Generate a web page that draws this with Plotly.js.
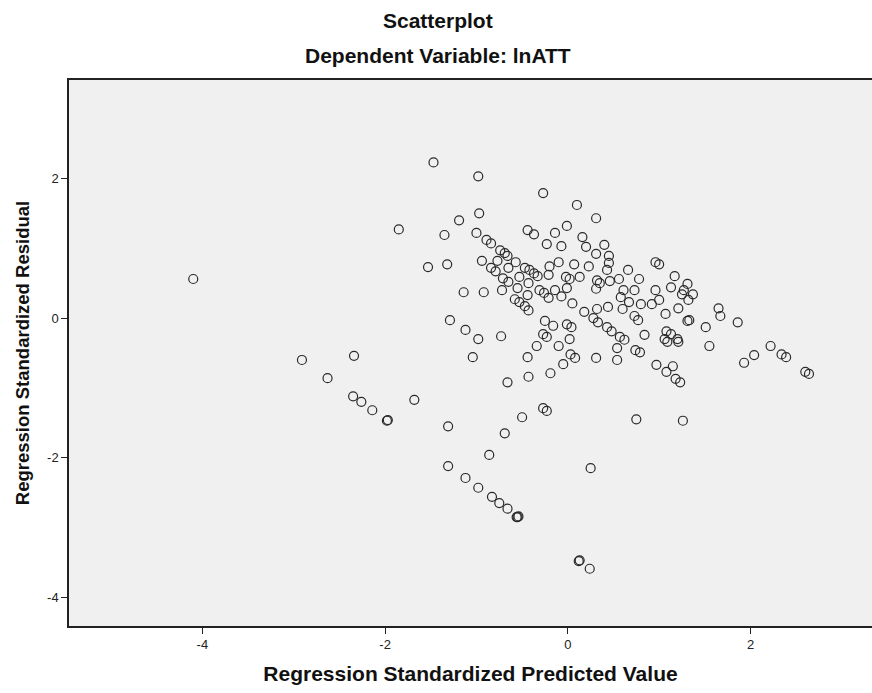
<!DOCTYPE html>
<html>
<head>
<meta charset="utf-8">
<script src="https://cdn.plot.ly/plotly-3.0.1.min.js"></script>
<style>html,body{margin:0;padding:0;background:#fff;}#chart{width:872px;height:693px;}</style>
</head>
<body>
<div id="chart"></div>
<script>
// Regression Standardized Predicted Value
var predicted = [
-4.10,-1.85,-1.47,-0.98,-0.27,0.10,0.31,-1.19,-0.97,-1.35,
-1.00,-0.89,-0.84,-0.74,-0.69,-0.66,-0.44,-0.37,-0.14,-0.01,
-0.23,-0.07,0.16,0.20,0.40,0.31,0.45,-1.53,-1.32,-0.94,
-0.77,-0.84,-0.79,-0.65,-0.57,-0.47,-0.42,-0.37,-0.33,-0.53,
-0.71,-0.65,-0.43,-0.20,-0.10,0.07,0.23,0.45,0.43,0.66,
-0.21,-0.02,0.02,0.13,0.32,0.35,0.46,0.56,0.78,-1.14,
-0.92,-0.72,-0.55,-0.44,-0.31,-0.26,-0.21,-0.14,-0.01,-0.07,
0.05,0.31,0.61,0.73,0.58,0.67,0.60,-0.58,-0.53,-0.47,
-0.43,0.18,0.32,0.44,0.28,0.33,0.43,0.48,0.57,0.62,
0.73,0.77,-1.29,-1.12,-0.98,-0.73,-0.25,-0.16,-0.01,0.04,
-0.27,-0.23,-0.34,-0.10,0.02,0.03,0.08,0.31,0.54,0.54,
-0.05,0.74,0.79,-1.04,-0.44,-0.66,-0.43,-0.19,-0.27,-0.23,
-0.50,-0.69,-1.31,0.75,-0.86,-1.31,-1.12,-0.98,-0.83,-0.75,
-0.66,-0.56,-0.55,-0.54,0.25,0.12,0.13,0.24,-2.91,-2.34,
-2.63,-2.35,-2.26,-2.14,-1.98,-1.97,-1.68,0.96,1.00,1.17,
1.13,1.31,1.27,1.37,1.25,1.32,1.21,0.96,1.00,0.92,
0.80,1.07,1.31,1.51,1.65,1.67,1.86,0.84,1.08,1.13,
1.06,1.09,1.20,1.21,1.55,0.97,1.15,1.08,1.18,1.23,
1.93,2.04,2.22,2.34,2.39,2.60,2.64,1.26,1.33
];
// Regression Standardized Residual
var residual = [
0.56,1.27,2.23,2.03,1.79,1.62,1.43,1.40,1.50,1.19,
1.22,1.12,1.07,0.97,0.93,0.89,1.26,1.20,1.22,1.32,
1.06,1.03,1.16,1.02,1.05,0.92,0.89,0.73,0.77,0.82,
0.82,0.72,0.67,0.72,0.80,0.72,0.69,0.64,0.60,0.59,
0.57,0.52,0.50,0.74,0.80,0.77,0.74,0.79,0.69,0.69,
0.62,0.59,0.56,0.59,0.54,0.50,0.53,0.56,0.56,0.37,
0.37,0.40,0.43,0.33,0.40,0.36,0.29,0.40,0.43,0.31,
0.21,0.42,0.40,0.40,0.30,0.23,0.13,0.27,0.23,0.17,
0.11,0.09,0.13,0.16,0.00,-0.06,-0.13,-0.19,-0.27,-0.31,
0.03,-0.03,-0.03,-0.17,-0.30,-0.26,-0.04,-0.11,-0.09,-0.13,
-0.23,-0.27,-0.40,-0.40,-0.30,-0.52,-0.57,-0.57,-0.60,-0.43,
-0.66,-0.46,-0.49,-0.56,-0.56,-0.92,-0.84,-0.79,-1.29,-1.33,
-1.42,-1.65,-1.55,-1.45,-1.96,-2.12,-2.29,-2.43,-2.56,-2.65,
-2.73,-2.85,-2.85,-2.84,-2.15,-3.48,-3.47,-3.59,-0.60,-0.54,
-0.86,-1.12,-1.20,-1.32,-1.47,-1.46,-1.17,0.80,0.77,0.60,
0.44,0.49,0.40,0.34,0.34,0.26,0.14,0.40,0.26,0.20,
0.20,0.06,-0.04,-0.13,0.14,0.03,-0.06,-0.24,-0.19,-0.23,
-0.30,-0.34,-0.30,-0.34,-0.40,-0.67,-0.69,-0.77,-0.87,-0.92,
-0.64,-0.53,-0.40,-0.52,-0.56,-0.77,-0.80,-1.47,-0.03
];
var xTicks = [-4, -2, 0, 2];
var yTicks = [-4, -2, 0, 2];
var titleText = 'Scatterplot';
var subtitleText = 'Dependent Variable: lnATT';
var xTitle = 'Regression Standardized Predicted Value';
var yTitle = 'Regression Standardized Residual';

var trace = {
  x: predicted, y: residual, type: 'scatter', mode: 'markers',
  marker: {symbol: 'circle-open', size: 9, color: '#2a2a2a', line: {width: 1.2}},
  hoverinfo: 'x+y'
};
var fontFam = 'Liberation Sans, Arial, sans-serif';
var layout = {
  width: 872, height: 693,
  margin: {l: 69, r: 0, t: 80, b: 67},
  paper_bgcolor: '#ffffff', plot_bgcolor: '#f0f0f0',
  showlegend: false,
  font: {family: fontFam, color: '#222'},
  xaxis: {
    range: [-5.46, 3.33], tickvals: xTicks, ticktext: xTicks.map(String),
    showgrid: false, zeroline: false, showline: true, linecolor: '#222', linewidth: 1.5,
    mirror: true, ticks: 'outside', ticklen: 6, tickcolor: '#222', tickwidth: 1.2,
    tickfont: {size: 13, family: fontFam, color: '#222'},
    title: {text: '<b>' + xTitle + '</b>', font: {size: 21, family: fontFam, color: '#111'}, standoff: 15}
  },
  yaxis: {
    range: [-4.41, 3.41], tickvals: yTicks, ticktext: yTicks.map(String),
    showgrid: false, zeroline: false, showline: true, linecolor: '#222', linewidth: 1.5,
    ticks: 'outside', ticklen: 6, tickcolor: '#222', tickwidth: 1.2,
    tickfont: {size: 13, family: fontFam, color: '#222'},
    title: {text: '<b>' + yTitle + '</b>', font: {size: 18.5, family: fontFam, color: '#111'}, standoff: 13}
  },
  annotations: [
    {text: '<b>' + titleText + '</b>', xref: 'paper', yref: 'paper', x: 0.46, y: 1, yshift: 60,
     xanchor: 'center', yanchor: 'middle', showarrow: false, font: {size: 21, family: fontFam, color: '#111'}},
    {text: '<b>' + subtitleText + '</b>', xref: 'paper', yref: 'paper', x: 0.46, y: 1, yshift: 25,
     xanchor: 'center', yanchor: 'middle', showarrow: false, font: {size: 21, family: fontFam, color: '#111'}}
  ]
};
Plotly.newPlot('chart', [trace], layout, {displayModeBar: false, responsive: false});
</script>
</body>
</html>
